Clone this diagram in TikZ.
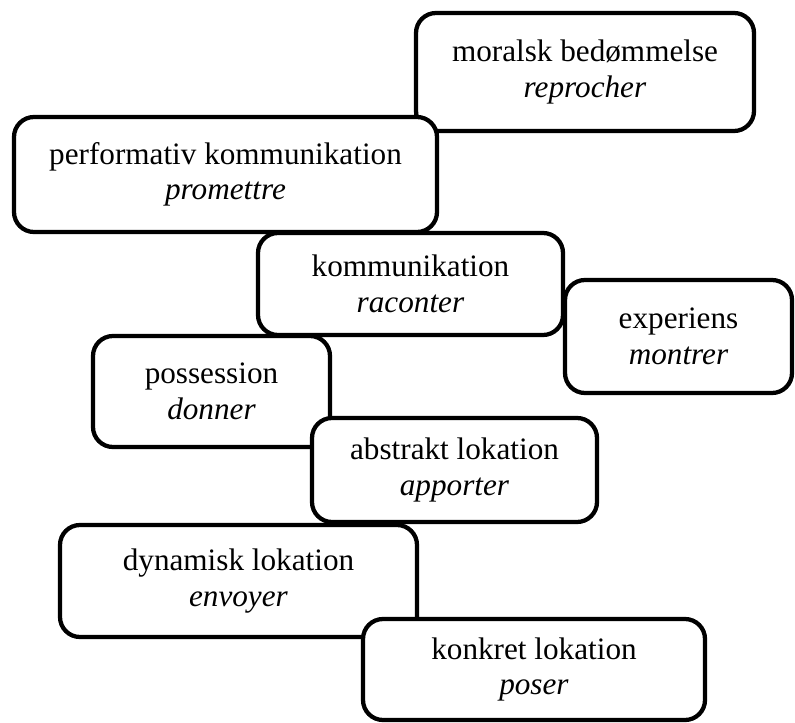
\documentclass[tikz,border=0pt]{standalone}
\usepackage{fontspec}
\setmainfont{Liberation Serif}
\tikzset{
  verbbox/.style={draw=black, line width=3.2pt, rounded corners=15pt, fill=white,
    align=center, inner sep=0pt, font=\fontsize{23.4}{26.6}\selectfont}
}
\begin{document}
\begin{tikzpicture}[x=0.75pt,y=0.75pt,yscale=-1,xscale=1]
\useasboundingbox (0,0) rectangle (795,723);

% Verb classes
\node [verbbox, minimum width=253.5pt, minimum height=88.5pt] (moral) at (585,72) {moralsk bedømmelse\\\textit{reprocher}};
\node [verbbox, minimum width=317.25pt, minimum height=86.25pt] (perform) at (225.5,174.5) {performativ kommunikation\\\textit{promettre}};
\node [verbbox, minimum width=228.75pt, minimum height=76.5pt] (komm) at (410.5,284) {kommunikation\\\textit{raconter}};
\node [verbbox, minimum width=170.25pt, minimum height=84.75pt] (exper) at (678.5,336.5) {experiens\\\textit{montrer}};
\node [verbbox, minimum width=177.75pt, minimum height=83.25pt] (poss) at (211.5,391.5) {possession\\\textit{donner}};
\node [verbbox, minimum width=213.75pt, minimum height=78pt] (abstrakt) at (454.5,470) {abstrakt lokation\\\textit{apporter}};
\node [verbbox, minimum width=267.75pt, minimum height=84pt] (dynamisk) at (238.5,581) {dynamisk lokation\\\textit{envoyer}};
\node [verbbox, minimum width=256.5pt, minimum height=75.75pt] (konkret) at (534,669.5) {konkret lokation\\\textit{poser}};
\end{tikzpicture}
\end{document}
